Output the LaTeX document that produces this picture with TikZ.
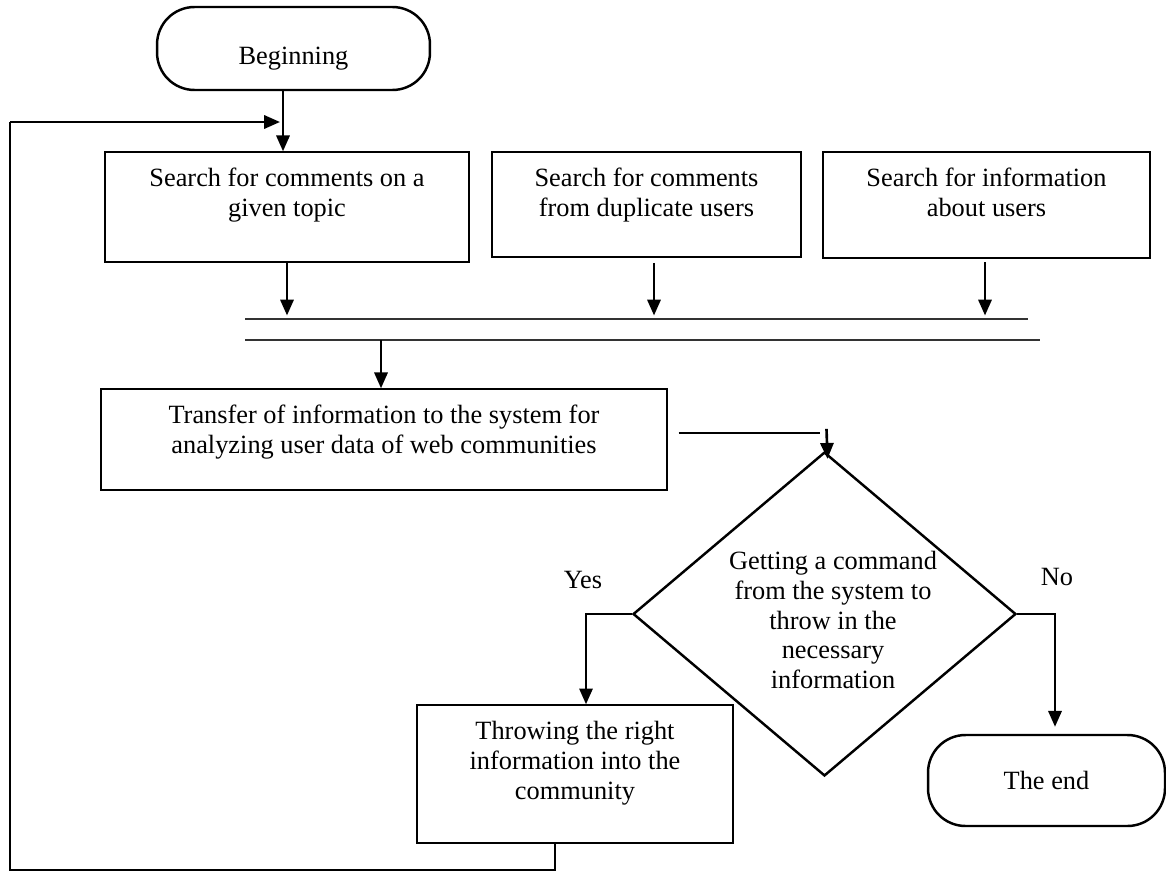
\documentclass[tikz,border=0pt]{standalone}
\usepackage{fontspec}
\setmainfont{Liberation Serif}
\usetikzlibrary{shapes.geometric,arrows.meta,calc}
\newcommand{\topbox}[3]{\parbox[c][#2][t]{#1}{\centering\rule{0pt}{19.8pt}#3}}
\begin{document}
\begin{tikzpicture}[x=0.02cm,y=-0.02cm,>={Triangle[length=9pt,width=7.5pt]},line join=miter,font=\fontsize{15}{17}\selectfont,
	box/.style={draw,line width=0.8pt,inner sep=0pt},
	term/.style={draw,line width=1.4pt,rounded corners=0.75cm,inner sep=0pt},
	arr/.style={->,line width=1.5pt},
	bus/.style={line width=0.8pt,black!80}]
		\useasboundingbox (0,0) rectangle (1166,872);
		\node[term,minimum width=5.46cm,minimum height=1.66cm,text height=22pt,text depth=3.3pt] (begin) at (293.5,48.5) {Beginning};
		\node[box] (search1) at (287,207) {\topbox{7.28cm}{2.2cm}{Search for comments on a\\given topic}};
		\node[box] (search2) at (646.5,204.5) {\topbox{6.18cm}{2.1cm}{Search for comments\\from duplicate users}};
		\node[box] (search3) at (986.5,205) {\topbox{6.54cm}{2.12cm}{Search for information\\about users}};
		\node[box] (transfer) at (384,439.5) {\topbox{11.32cm}{2.02cm}{Transfer of information to the system for\\analyzing user data of web communities}};
		\node[draw,diamond,line width=1.4pt,minimum width=7.66cm,minimum height=6.48cm,inner sep=0pt] (decide) at (824.5,614) {};
		\node[align=center] (decidetext) at ($(decide)+(8.5,6)$) {Getting a command\\from the system to\\throw in the\\necessary\\information};
		\node[box] (throw) at (575,774) {\topbox{6.32cm}{2.76cm}{Throwing the right\\information into the\\community}};
		\node[term,minimum width=4.74cm,minimum height=1.82cm] (finish) at (1046.5,780.5) {The end};
		\node (yes) at (583,580) {Yes};
		\node (no) at (1057,577) {No};
		\coordinate (bus1w) at (245,319);
		\coordinate (bus1e) at (1028,319);
		\coordinate (bus2w) at (245,340);
		\coordinate (bus2e) at (1040,340);
		\coordinate (in1) at (287,319);
		\coordinate (in2) at (654,319);
		\coordinate (in3) at (985,319);
		\coordinate (out) at (381,340);
		\coordinate (corner) at (10,870);
		\coordinate (entry) at (280,122);
		\draw[arr] ($(begin.south)+(-10.5,0)$) -- ($(search1.north)+(-4,0)$);
		\draw[bus] (bus1w) -- (bus1e);
		\draw[bus] (bus2w) -- (bus2e);
		\draw[arr,shorten >=2pt] (in1 |- search1.south) -- (in1);
		\draw[arr,shorten >=2pt,shorten <=3pt] (in2 |- search2.south) -- (in2);
		\draw[arr,shorten >=2pt,shorten <=2pt] (in3 |- search3.south) -- (in3);
		\draw[arr] (out) -- (out |- transfer.north);
		\draw[line width=0.8pt] ($(transfer.east)+(11,-6.5)$) -- ++(141,0);
		\draw[arr] ($(decide.north)+(2,-22)$) -- ($(decide.north)+(3,8)$);
		\draw[arr] (decide.west) -| ($(throw.north)+(11,0)$);
		\draw[arr] (decide.east) -| ($(finish.north)+(8.5,-7)$);
		\draw[line width=0.9pt] ($(throw.south)+(-20,0)$) |- (corner) -- (corner |- entry);
		\draw[arr] (corner |- entry) -- (entry);
\end{tikzpicture}
\end{document}
